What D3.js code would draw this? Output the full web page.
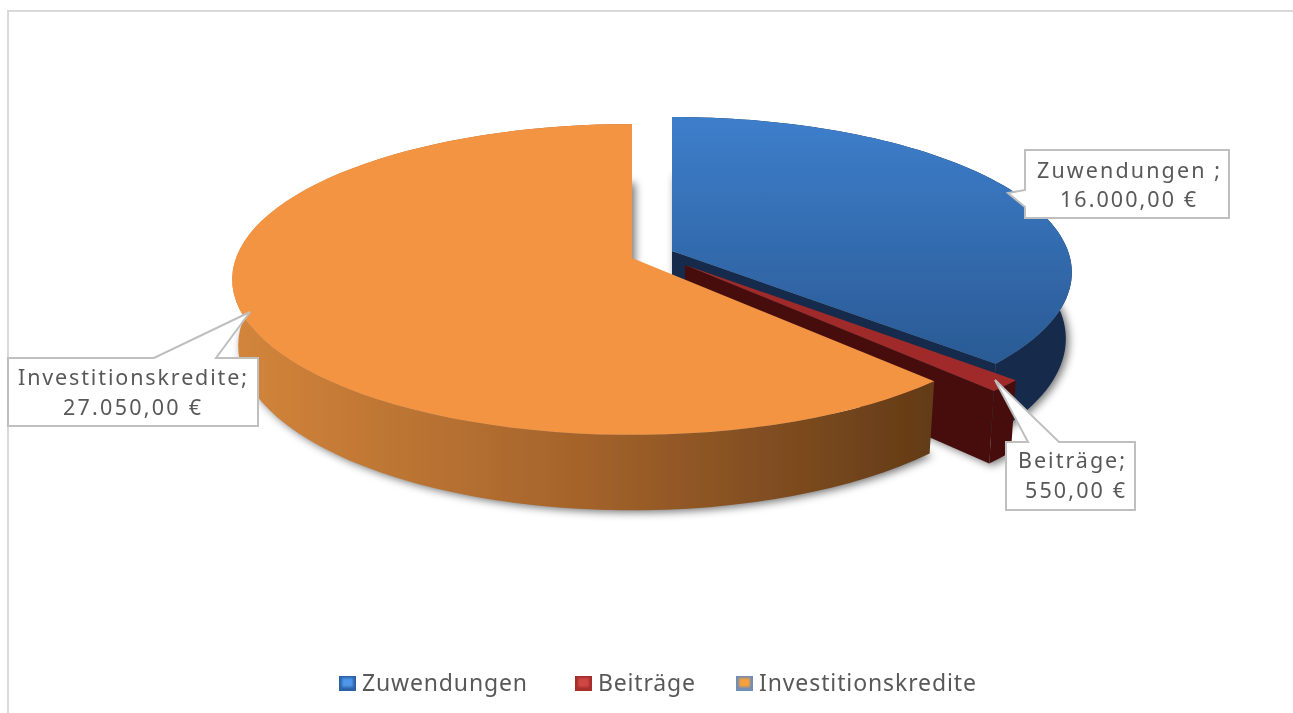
<!DOCTYPE html>
<html>
<head>
<meta charset="utf-8">
<script src="https://d3js.org/d3.v7.min.js"></script>
<style>
  html, body { margin: 0; padding: 0; background: #fff; overflow: hidden; }
  svg { display: block; }
  text { font-family: "Noto Sans", "Open Sans", sans-serif; fill: #595959; }
</style>
</head>
<body>
<div id="container"></div>
<script>
const categories = ["Zuwendungen", "Beiträge", "Investitionskredite"];
const values = [16000, 550, 27050];
const labelNames = ["Zuwendungen ;", "Beiträge;", "Investitionskredite;"];

const width = 1293, height = 713;

// perspective of the tilted pie, fitted by eye
const cx = 632, cy = 258, radiusX = 396, radiusY = 152.5, persp = 0.138;
const depth = 65, bottomShrink = 0.985;
const explode = [[40, -7], [53, 7], [0, 0]];
const radiusScale = [1, 1.02, 1];

const color = d3.scaleOrdinal().domain(categories).range(["url(#blueTop)", "#a02c29", "#f39443"]);
const sideColor = d3.scaleOrdinal().domain(categories).range(["#132a4b", "#471110", "url(#orangeSide)"]);

const euro = d3.formatLocale({ decimal: ",", thousands: ".", grouping: [3], currency: ["", " €"] }).format("$,.2f");

const svg = d3.select("#container").append("svg")
  .attr("width", width)
  .attr("height", height)
  .attr("viewBox", [0, 0, width, height]);

const defs = svg.append("defs");
defs.append("filter").attr("id", "soft")
  .attr("x", "-10%").attr("y", "-10%").attr("width", "120%").attr("height", "120%")
  .append("feGaussianBlur").attr("stdDeviation", 4);
defs.append("filter").attr("id", "glow")
  .attr("x", "-30%").attr("y", "-30%").attr("width", "160%").attr("height", "160%")
  .append("feGaussianBlur").attr("stdDeviation", 1);
// the reference is an upscaled picture, all its edges are a little soft
defs.append("filter").attr("id", "upscale")
  .attr("filterUnits", "userSpaceOnUse")
  .attr("x", 0).attr("y", 0).attr("width", width).attr("height", height)
  .append("feGaussianBlur").attr("stdDeviation", 0.55);

const addGradient = (id, attrs, stops) => {
  const g = defs.append("linearGradient").attr("id", id).attr("gradientUnits", "userSpaceOnUse");
  Object.entries(attrs).forEach(([k, v]) => g.attr(k, v));
  stops.forEach(([o, c]) => g.append("stop").attr("offset", o).attr("stop-color", c));
};
addGradient("blueTop", { x1: 0, y1: 119, x2: 0, y2: 365 }, [[0, "#3d7ecb"], [1, "#2a5a94"]]);
addGradient("orangeSide", { x1: 235, y1: 0, x2: 930, y2: 0 },
  [[0, "#d3853b"], [0.5, "#a4632b"], [1, "#633b17"]]);

const root = svg.append("g").attr("filter", "url(#upscale)");

// frame of the chart area
root.append("path")
  .attr("d", d3.line()([[8, height], [8, 11], [width, 11]]))
  .attr("fill", "none")
  .attr("stroke", "#d9d9d9")
  .attr("stroke-width", 2);

const slices = d3.pie().sort(null).value(d => d)(values);

const project = (i, theta, r, z) => {
  const u = r * radiusScale[i] * Math.sin(theta), v = -r * radiusScale[i] * Math.cos(theta);
  const w = 1 - persp * v;
  const shrink = z ? bottomShrink : 1;
  return [
    cx + explode[i][0] + radiusX * u * shrink / w,
    cy + explode[i][1] + radiusY * v / w + z * depth / w
  ];
};

const ring = (i, d, z) => d3.range(0, 81).map(t =>
  project(i, d.startAngle + (d.endAngle - d.startAngle) * t / 80, 1, z));

const line = d3.line();
const wedge = (i, d, z) => line([project(i, 0, 0, z), ...ring(i, d, z)]) + "Z";
const rim = (i, d) => line([...ring(i, d, 0), ...ring(i, d, 1).reverse()]) + "Z";
const cut = (i, theta) => line([
  project(i, theta, 0, 0), project(i, theta, 1, 0),
  project(i, theta, 1, 1), project(i, theta, 0, 1)
]) + "Z";

const pieG = root.append("g");

// blurred shadow under every slice
pieG.append("g")
  .attr("filter", "url(#soft)")
  .selectAll("path")
  .data(slices)
  .join("path")
  .attr("d", (d, i) => wedge(i, d, 1))
  .attr("transform", "translate(3,2)")
  .attr("fill", "#000")
  .attr("fill-opacity", 0.55);

slices.forEach((d, i) => {
  const g = pieG.append("g");
  const side = sideColor(categories[i]);
  g.append("path").attr("d", rim(i, d)).attr("fill", side);
  g.append("path").attr("d", cut(i, d.endAngle)).attr("fill", side);
  g.append("path").attr("d", wedge(i, d, 0)).attr("fill", color(categories[i]));
});

// data label callouts
const callouts = [
  { box: [1025, 150, 204, 68], tip: [1008, 193], base: [[1025, 207], [1025, 190]],
    lines: [[1037, 178, 183], [1060, 207, 136]], order: 0 },
  { box: [1006, 442, 129, 68], tip: [995, 380], base: [[1028, 442], [1059, 442]],
    lines: [[1018, 468, 107], [1025, 498, 100]], order: 1 },
  { box: [8, 358, 250, 68], tip: [250, 312], base: [[154, 358], [216, 358]],
    lines: [[18, 385, 229], [63, 415, 138]], order: 2 }
];

const calloutPath = c => {
  const [x, y, w, h] = c.box;
  const corners = [[x, y], [x + w, y], [x + w, y + h], [x, y + h]];
  // walk round the box and break out to the pointer on the side holding the base
  let pts;
  if (c.base[0][1] === y) {
    pts = [corners[0], c.base[0], c.tip, c.base[1], corners[1], corners[2], corners[3]];
  } else {
    pts = [corners[0], corners[1], corners[2], corners[3], c.base[0], c.tip, c.base[1]];
  }
  return line(pts) + "Z";
};

const labelG = root.append("g").selectAll("g").data(callouts).join("g");
labelG.append("path")
  .attr("d", calloutPath)
  .attr("fill", "#fff")
  .attr("stroke", "#bfbfbf")
  .attr("stroke-width", 2);
labelG.selectAll("text")
  .data(c => [labelNames[c.order], euro(values[c.order])].map((t, j) => ({ t, pos: c.lines[j] })))
  .join("text")
  .attr("x", d => d.pos[0])
  .attr("y", d => d.pos[1])
  .attr("textLength", d => d.pos[2])
  .attr("lengthAdjust", "spacing")
  .attr("font-size", 21.5)
  .text(d => d.t);

// legend
const legendX = [339, 575, 736];
const legendTextW = [165, 97, 217];
const swatchFill = ["#2c62a6", "#a52e2b", "#6f8db5"];
const swatchInner = ["#4f97ea", "#cf4743", "#f7a03e"];

const legend = root.append("g").selectAll("g").data(categories).join("g");
legend.append("rect")
  .attr("x", (d, i) => legendX[i]).attr("y", 676)
  .attr("width", 17).attr("height", 15)
  .attr("fill", (d, i) => swatchFill[i]);
legend.append("rect")
  .attr("x", (d, i) => legendX[i] + 3).attr("y", 678)
  .attr("width", 11).attr("height", 9)
  .attr("filter", "url(#glow)")
  .attr("fill", (d, i) => swatchInner[i]);
legend.append("text")
  .attr("x", (d, i) => legendX[i] + 23)
  .attr("y", 691)
  .attr("textLength", (d, i) => legendTextW[i])
  .attr("lengthAdjust", "spacing")
  .attr("font-size", 23)
  .text(d => d);
</script>
</body>
</html>
